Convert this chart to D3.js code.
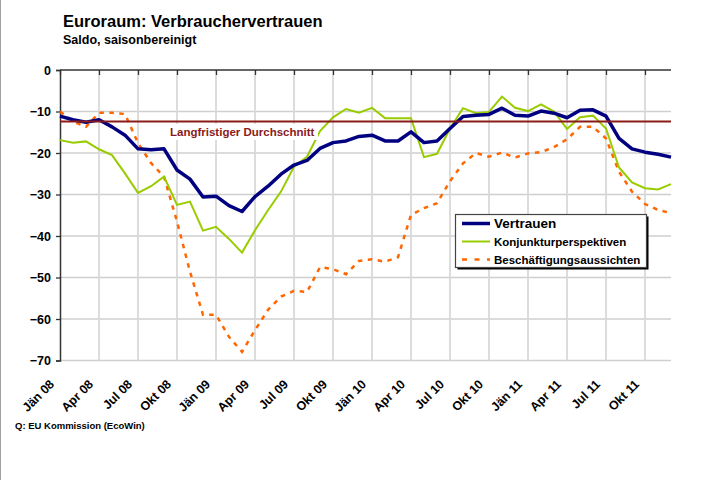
<!DOCTYPE html>
<html>
<head>
<meta charset="utf-8">
<script src="https://cdn.jsdelivr.net/npm/d3@7"></script>
<style>
html,body{margin:0;padding:0;background:#fff;}
svg{display:block;}
text{font-family:"Liberation Sans",Arial,Helvetica,sans-serif;font-weight:bold;}
</style>
</head>
<body>
<svg id="chart" width="711" height="480"></svg>
<script>
// ---- data (monthly, Jän 08 – Dez 11) ----
const vertrauen = [-11.1,-12.0,-12.6,-12.0,-13.7,-15.7,-19.0,-19.2,-19.0,-24.1,-26.3,-30.6,-30.4,-32.7,-34.1,-30.5,-28.0,-25.1,-22.9,-21.8,-18.9,-17.5,-17.1,-16.0,-15.7,-17.1,-17.1,-14.9,-17.5,-17.1,-14.1,-11.2,-10.9,-10.7,-9.2,-10.9,-11.1,-9.9,-10.4,-11.5,-9.7,-9.6,-11.1,-16.5,-19.0,-19.8,-20.3,-21.0];
const konjunktur = [-16.9,-17.5,-17.2,-19.1,-20.5,-24.9,-29.6,-28.0,-25.7,-32.5,-31.7,-38.7,-37.8,-40.7,-44.0,-38.6,-33.8,-29.3,-23.3,-20.9,-14.7,-11.4,-9.4,-10.3,-9.1,-11.6,-11.6,-11.6,-21.0,-20.2,-14.1,-9.2,-10.4,-10.1,-6.4,-9.1,-9.9,-8.3,-10.0,-14.2,-11.4,-11.0,-14.1,-23.5,-27.1,-28.5,-28.8,-27.5];
const beschaeftigung = [-10.0,-12.4,-13.7,-10.3,-10.3,-10.6,-17.6,-22.4,-25.7,-36.5,-48.6,-59.0,-59.0,-64.3,-67.9,-62.7,-57.8,-54.6,-53.2,-53.5,-47.5,-48.0,-49.2,-46.0,-45.6,-46.2,-45.1,-34.9,-33.3,-32.1,-26.8,-22.5,-20.0,-20.9,-19.9,-21.1,-20.1,-19.8,-18.6,-16.7,-13.7,-13.7,-16.5,-24.5,-29.3,-32.3,-33.7,-34.5];
const durchschnitt = -12.4;
const tickLabels = ["Jän 08","Apr 08","Jul 08","Okt 08","Jän 09","Apr 09","Jul 09","Okt 09","Jän 10","Apr 10","Jul 10","Okt 10","Jän 11","Apr 11","Jul 11","Okt 11"];
const yTicks = [0,-10,-20,-30,-40,-50,-60,-70];
const seriesNames = ["Vertrauen","Konjunkturperspektiven","Beschäftigungsaussichten"];

const svg = d3.select("#chart");
const n = vertrauen.length;
const x = d3.scaleLinear().domain([0, n - 1]).range([60, 671]);
const y = d3.scaleLinear().domain([-70, 0]).range([360.5, 70]);
const tickIdx = tickLabels.map((_, i) => i * 3);

// frame line at left
svg.append("line").attr("x1",0.5).attr("x2",0.5).attr("y1",0).attr("y2",480)
  .attr("stroke","#a0a0a0").attr("stroke-width",1);

// titles
svg.append("text").attr("x",63).attr("y",26.5).attr("font-size",16.5).attr("fill","#000")
  .text("Euroraum: Verbrauchervertrauen");
svg.append("text").attr("x",63).attr("y",43.5).attr("font-size",12.5).attr("fill","#000")
  .text("Saldo, saisonbereinigt");

// gridlines
const g = svg.append("g");
g.selectAll("line.hg").data(yTicks.filter(v => v < 0)).enter().append("line")
  .attr("x1",60).attr("x2",671).attr("y1",d=>y(d)).attr("y2",d=>y(d))
  .attr("stroke","#cfcfcf").attr("stroke-width",1.3);
g.selectAll("line.vg").data(tickIdx.filter(i => i > 0)).enter().append("line")
  .attr("x1",d=>x(d)).attr("x2",d=>x(d)).attr("y1",70).attr("y2",y(-70))
  .attr("stroke","#d9d9d9").attr("stroke-width",1.8);

// y axis
const yAxis = d3.axisLeft(y).tickValues(yTicks).tickSize(4).tickPadding(5).tickFormat(d3.format("d"));
const ya = svg.append("g").attr("transform","translate(60,0)").call(yAxis);
ya.select(".domain").attr("stroke","#333").attr("stroke-width",1.5);
ya.selectAll(".tick line").attr("stroke","#333").attr("stroke-width",1.3);
ya.selectAll(".tick text").attr("font-size",12.5).attr("font-family",null).attr("fill","#000").attr("font-weight","bold");

// x axis at 0 (top), ticks inward
const xAxis = d3.axisBottom(x).tickValues(tickIdx).tickSize(5).tickFormat("");
const xa = svg.append("g").attr("transform",`translate(0,${y(0)})`).call(xAxis);
xa.select(".domain").attr("stroke","#333").attr("stroke-width",1.5).attr("d",`M60,0H671`);
xa.selectAll(".tick line").attr("stroke","#333").attr("stroke-width",1.3);

// x tick labels (low position, rotated)
svg.append("g").selectAll("text").data(tickIdx).enter().append("text")
  .attr("transform",(d)=>`translate(${x(d)-5},${385}) rotate(-45)`)
  .attr("text-anchor","end").attr("font-size",12.5).attr("fill","#000")
  .text((d,i)=>tickLabels[i]);

// lines
const line = d3.line().x((d,i)=>x(i)).y(d=>y(d));
svg.append("path").datum(beschaeftigung).attr("d",line).attr("fill","none")
  .attr("stroke","#ff6600").attr("stroke-width",2.5).attr("stroke-dasharray","4.5,5.5");
svg.append("path").datum(konjunktur).attr("d",line).attr("fill","none")
  .attr("stroke","#99cc00").attr("stroke-width",2);
svg.append("path").datum(vertrauen).attr("d",line).attr("fill","none")
  .attr("stroke","#000080").attr("stroke-width",3.5).attr("stroke-linejoin","round");

// average line + label
svg.append("line").attr("x1",60).attr("x2",671).attr("y1",y(durchschnitt)).attr("y2",y(durchschnitt))
  .attr("stroke","#8b1a1a").attr("stroke-width",2);
const lbl = svg.append("g");
lbl.append("rect").attr("x",166).attr("y",y(durchschnitt)+2.5).attr("width",152).attr("height",16).attr("fill","#fff");
lbl.append("text").attr("x",170).attr("y",y(durchschnitt)+14.5).attr("font-size",11.5).attr("fill","#8b1a1a")
  .text("Langfristiger Durchschnitt");

// legend
const lg = svg.append("g");
lg.append("rect").attr("x",457.5).attr("y",216.5).attr("width",191).attr("height",53).attr("fill","#000");
lg.append("rect").attr("x",455.5).attr("y",214.5).attr("width",191).attr("height",53)
  .attr("fill","#fff").attr("stroke","#444").attr("stroke-width",1.2);
const legRows = [
  {name: seriesNames[0], color:"#000080", w:3.5, dash:null, y:223.5, fs:13.5},
  {name: seriesNames[1], color:"#99cc00", w:2, dash:null, y:241.5, fs:11.5},
  {name: seriesNames[2], color:"#ff6600", w:2.5, dash:"5,7.5", y:259.5, fs:11.5}
];
legRows.forEach(r => {
  lg.append("line").attr("x1",462).attr("x2",490).attr("y1",r.y).attr("y2",r.y)
    .attr("stroke",r.color).attr("stroke-width",r.w).attr("stroke-dasharray",r.dash);
  lg.append("text").attr("x",494).attr("y",r.y).attr("dy","0.36em").attr("font-size",r.fs)
    .attr("fill","#000").text(r.name);
});

// source
svg.append("text").attr("x",15).attr("y",429).attr("font-size",9.5).attr("fill","#000")
  .text("Q: EU Kommission (EcoWin)");
</script>
</body>
</html>
